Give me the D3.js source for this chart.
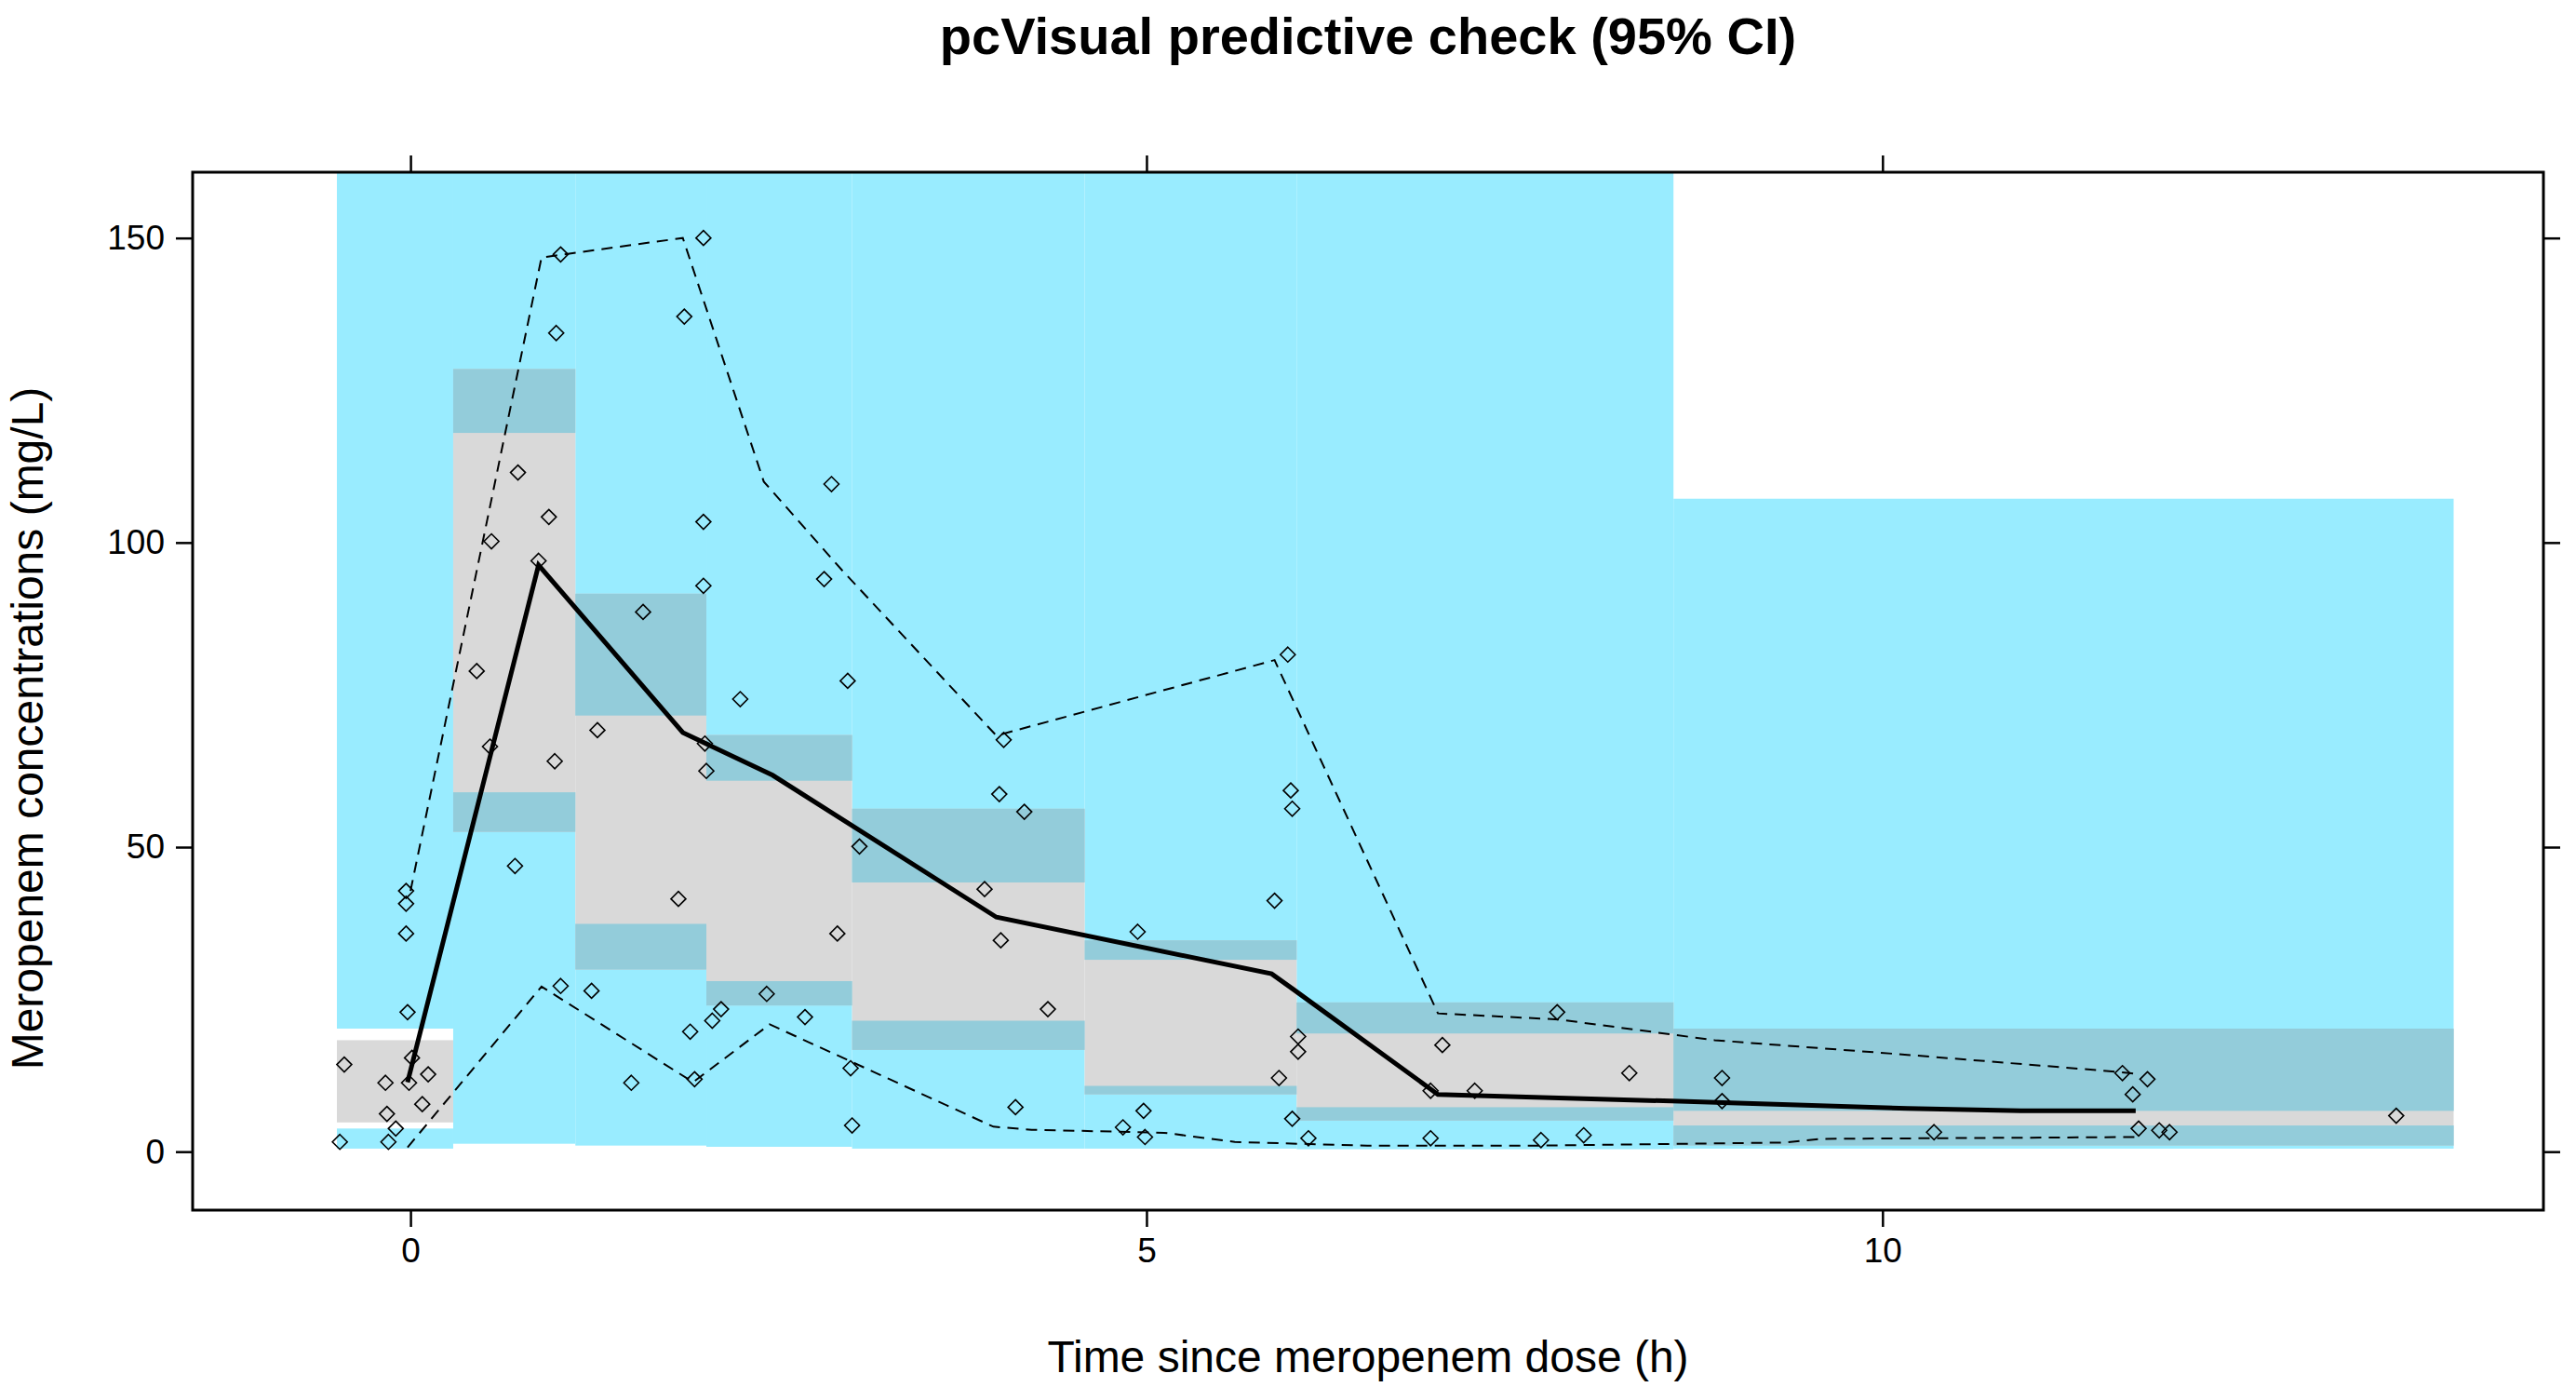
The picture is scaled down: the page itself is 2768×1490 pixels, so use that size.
<!DOCTYPE html>
<html>
<head>
<meta charset="utf-8">
<script src="https://d3js.org/d3.v7.min.js"></script>
<style>
body { margin:0; background:#fff; }
text { font-family: "Liberation Sans", Arial, sans-serif; }
</style>
</head>
<body>
<script>
// bin edges (h)
var binEdges = [-0.50, 0.29, 1.12, 2.01, 3.00, 4.58, 6.02, 8.58, 13.88];
// CI of lower percentile, median, upper percentile per bin [low, high]
var loCI  = [[0.5,3.8],[1.3,59],[1.0,37.4],[0.8,28],[0.5,21.5],[0.5,10.8],[0.4,7.3],[0.5,4.3]];
var medCI = [[4.8,18.3],[52.5,128.5],[29.9,91.6],[24,68.4],[16.7,56.3],[9.4,34.7],[5.1,24.5],[1.0,20.2]];
var hiCI  = [[20.2,170],[118,170],[71.6,170],[60.9,170],[44.2,170],[31.5,170],[19.4,170],[6.7,107.2]];

var medianLine = [[-0.02,11.4],[0.87,96.3],[1.85,68.8],[2.46,61.8],[3.98,38.5],[5.85,29.2],[6.0,26.6],[6.98,9.4],[7.8,8.8],[8.57,8.3],[9.37,7.7],[10.17,7.1],[10.94,6.7],[11.72,6.7]];
var upperLine = [[0,42.8],[0.89,146.8],[1.85,150],[2.4,110],[2.93,95.5],[3.98,68.3],[5.87,80.7],[6.98,22.7],[7.8,21.7],[8.86,18.3],[10.17,15.9],[11.6,13.1],[11.72,12.8]];
var lowerLine = [[-0.02,0.7],[0.89,27.1],[1.92,11.4],[2.44,20.9],[3.96,4.1],[4.22,3.6],[5.12,3.1],[5.6,1.6],[6.03,1.3],[6.5,1.0],[7.68,1.0],[9.34,1.5],[9.58,2.1],[11.72,2.4]];

var obs = [[-0.48,1.6],[-0.45,14.3],[-0.17,11.3],[-0.16,6.2],[-0.15,1.6],[-0.10,3.8],[-0.03,42.8],[-0.03,40.7],[-0.03,35.8],[-0.02,22.9],[-0.01,11.3],[0.01,15.4],[0.08,7.8],[0.12,12.7],
 [0.45,78.9],[0.54,66.5],[0.55,100.2],[0.71,46.9],[0.73,111.5],[0.87,97],[0.94,104.2],[0.98,64.1],[0.99,134.4],[1.02,147.3],[1.02,27.2],
 [1.23,26.4],[1.27,69.2],[1.50,11.3],[1.58,88.6],[1.82,41.5],[1.86,137.1],[1.93,11.9],[1.90,19.7],[1.99,150],[1.99,103.4],[1.99,92.9],[2.01,62.5],[2.0,67],
 [2.05,21.5],[2.11,23.4],[2.24,74.3],[2.42,25.9],[2.68,22.1],[2.86,109.6],[2.81,94],[2.90,35.8],[2.97,77.3],[2.99,13.7],[3.00,4.3],[3.05,50.1],
 [3.90,43.1],[4.0,58.7],[4.01,34.7],[4.03,67.6],[4.11,7.3],[4.17,55.8],[4.33,23.4],[4.84,4.0],[4.94,36.1],[4.98,6.7],[4.99,2.4],
 [5.87,41.2],[5.96,81.6],[5.98,59.3],[5.99,56.3],[5.90,12.1],[6.03,18.9],[6.03,16.4],[5.99,5.4],[6.10,2.2],
 [6.93,2.2],[6.93,10],[7.01,17.5],[7.23,10],[7.68,1.9],[7.79,22.9],[7.97,2.7],[8.28,12.9],[8.91,12.1],[8.91,8.3],
 [10.35,3.2],[11.63,12.9],[11.70,9.4],[11.80,11.9],[11.74,3.8],[11.88,3.5],[11.95,3.2],[13.49,5.9]];

var xTicks = [0, 5, 10];
var yTicks = [0, 50, 100, 150];

var W = 2768, H = 1490;
var L = 207, R = 2733, T = 185, B = 1300;

var svg = d3.select("body").append("svg").attr("width", W).attr("height", H);

var x = d3.scaleLinear().domain([-1.48, 14.49]).range([L, R]);
var y = d3.scaleLinear().domain([-9.6, 160.8]).range([B, T]);

svg.append("clipPath").attr("id", "clip").append("rect")
	.attr("x", L).attr("y", T).attr("width", R - L).attr("height", B - T);
var g = svg.append("g").attr("clip-path", "url(#clip)");

var cyan = "#99ECFF", grey = "#D9D9D9", teal = "#93CCDA";

function band(list, colour) {
	g.selectAll(null).data(list).enter().append("rect")
		.attr("x", function(d, i) { return x(binEdges[i]); })
		.attr("width", function(d, i) { return x(binEdges[i + 1]) - x(binEdges[i]); })
		.attr("y", function(d) { return y(d[1]); })
		.attr("height", function(d) { return y(d[0]) - y(d[1]); })
		.attr("fill", colour);
}
band(hiCI, cyan);
band(loCI, cyan);
band(medCI, grey);
// overlaps of median CI with the outer CIs
function overlap(a, b) {
	return a.map(function(d, i) {
		var lo = Math.max(d[0], b[i][0]), hi = Math.min(d[1], b[i][1]);
		return hi > lo ? [lo, hi] : [0, 0];
	});
}
band(overlap(medCI, hiCI), teal);
band(overlap(medCI, loCI), teal);

var line = d3.line().x(function(d) { return x(d[0]); }).y(function(d) { return y(d[1]); });

g.selectAll(".obs").data(obs).enter().append("path")
	.attr("class", "obs")
	.attr("d", function(d) {
		var cx = x(d[0]), cy = y(d[1]), r = 8;
		return "M" + cx + "," + (cy - r) + "L" + (cx + r) + "," + cy + "L" + cx + "," + (cy + r) + "L" + (cx - r) + "," + cy + "Z";
	})
	.attr("fill", "none").attr("stroke", "#000").attr("stroke-width", 1.6);

g.append("path").datum(upperLine).attr("d", line)
	.attr("fill", "none").attr("stroke", "#000").attr("stroke-width", 2).attr("stroke-dasharray", "12,8");
g.append("path").datum(lowerLine).attr("d", line)
	.attr("fill", "none").attr("stroke", "#000").attr("stroke-width", 2).attr("stroke-dasharray", "12,8");
g.append("path").datum(medianLine).attr("d", line)
	.attr("fill", "none").attr("stroke", "#000").attr("stroke-width", 5);

// frame
svg.append("rect").attr("x", L).attr("y", T).attr("width", R - L).attr("height", B - T)
	.attr("fill", "none").attr("stroke", "#000").attr("stroke-width", 3);

// axes, ticks outward on all sides
function style(sel) {
	sel.select(".domain").remove();
	sel.selectAll("line").attr("stroke", "#000").attr("stroke-width", 2.5);
	sel.selectAll("text").attr("font-size", 37).attr("fill", "#000")
		.style("font-family", "'Liberation Sans', Arial, sans-serif");
}
svg.append("g").attr("transform", "translate(0," + B + ")")
	.call(d3.axisBottom(x).tickValues(xTicks).tickSize(18).tickPadding(12)).call(style);
svg.append("g").attr("transform", "translate(0," + T + ")")
	.call(d3.axisTop(x).tickValues(xTicks).tickSize(18).tickFormat("")).call(style);
svg.append("g").attr("transform", "translate(" + L + ",0)")
	.call(d3.axisLeft(y).tickValues(yTicks).tickSize(18).tickPadding(12)).call(style);
svg.append("g").attr("transform", "translate(" + R + ",0)")
	.call(d3.axisRight(y).tickValues(yTicks).tickSize(18).tickFormat("")).call(style);

svg.append("text").attr("x", (L + R) / 2).attr("y", 58)
	.attr("text-anchor", "middle").attr("font-size", 56).attr("font-weight", "bold")
	.text("pcVisual predictive check (95% CI)");
svg.append("text").attr("x", (L + R) / 2).attr("y", 1474)
	.attr("text-anchor", "middle").attr("font-size", 48)
	.text("Time since meropenem dose (h)");
svg.append("text").attr("transform", "translate(46," + ((T + B) / 2 + 40) + ") rotate(-90)")
	.attr("text-anchor", "middle").attr("font-size", 48)
	.text("Meropenem concentrations (mg/L)");
</script>
</body>
</html>
